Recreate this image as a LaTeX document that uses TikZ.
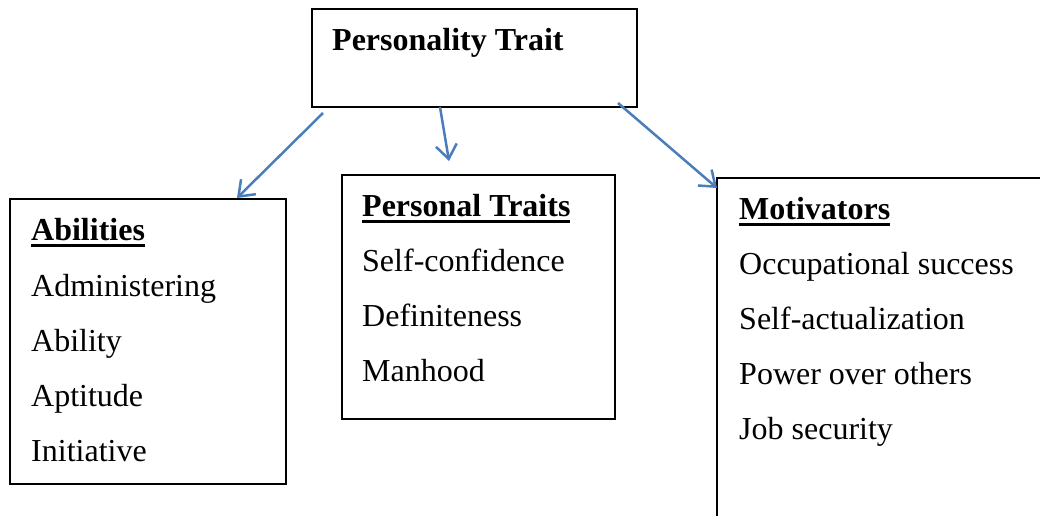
\documentclass[tikz,border=0pt]{standalone}
\usepackage{fontspec}
\setmainfont{Liberation Serif}
\usetikzlibrary{arrows.meta,calc}
\definecolor{arrowblue}{HTML}{4A7EBB}
\newcommand{\hdul}[1]{\setbox0\hbox{#1}\rlap{\rule[-6.5pt]{\wd0}{3pt}}\box0}
\begin{document}
\begin{tikzpicture}[x=1pt,y=-1pt,
  boxline/.style={draw=black, line width=2pt, inner sep=0pt, outer sep=0pt, anchor=north west},
  txt/.style={anchor=base west, inner sep=0pt, font=\fontsize{32}{38}\selectfont},
  hd/.style={anchor=base west, inner sep=0pt, font=\fontsize{32}{38}\selectfont\bfseries},
  conn/.style={draw=arrowblue, line width=2.5pt, -{Straight Barb[length=14pt,width=21pt,line width=2.5pt]}}]
\useasboundingbox (0,0) rectangle (1040,515);
\clip (0,0) rectangle (1040,515);
% boxes
\node[boxline, minimum width=325pt, minimum height=98pt] (top) at (312,9) {};
\node[boxline, minimum width=276pt, minimum height=285pt] (abil) at (10,199) {};
\node[boxline, minimum width=273pt, minimum height=244pt] (mid) at (342,175) {};
\node[boxline, minimum width=400pt, minimum height=400pt] (mot) at (717,178) {};
% texts
\node[hd] (t0) at (332,50) {Personality Trait};
\node[hd] (a0) at (31,240) {\hdul{Abilities}};
\node[txt] (a1) at (31,296) {Administering};
\node[txt] (a2) at (31,351) {Ability};
\node[txt] (a3) at (31,406) {Aptitude};
\node[txt] (a4) at (31,461) {Initiative};
\node[hd] (m0) at (362,216) {\hdul{Personal Traits}};
\node[txt] (m1) at (362,271) {Self-confidence};
\node[txt] (m2) at (362,326) {Definiteness};
\node[txt] (m3) at (362,381) {Manhood};
\node[hd] (r0) at (739,219) {\hdul{Motivators}};
\node[txt] (r1) at (739,274) {Occupational success};
\node[txt] (r2) at (739,329) {Self-actualization};
\node[txt] (r3) at (739,384) {Power over others};
\node[txt] (r4) at (739,439) {Job security};
% connectors
\draw[conn] ($(top.south west)+(11,6)$) -- ($(abil.north west)+(227,-1)$);
\draw[conn] ($(top.south west)+(128,0)$) -- ($(mid.north west)+(107,-14)$);
\draw[conn] ($(top.south east)+(-19,-4)$) -- ($(mot.north west)+(0,10)$);
\end{tikzpicture}
\end{document}
